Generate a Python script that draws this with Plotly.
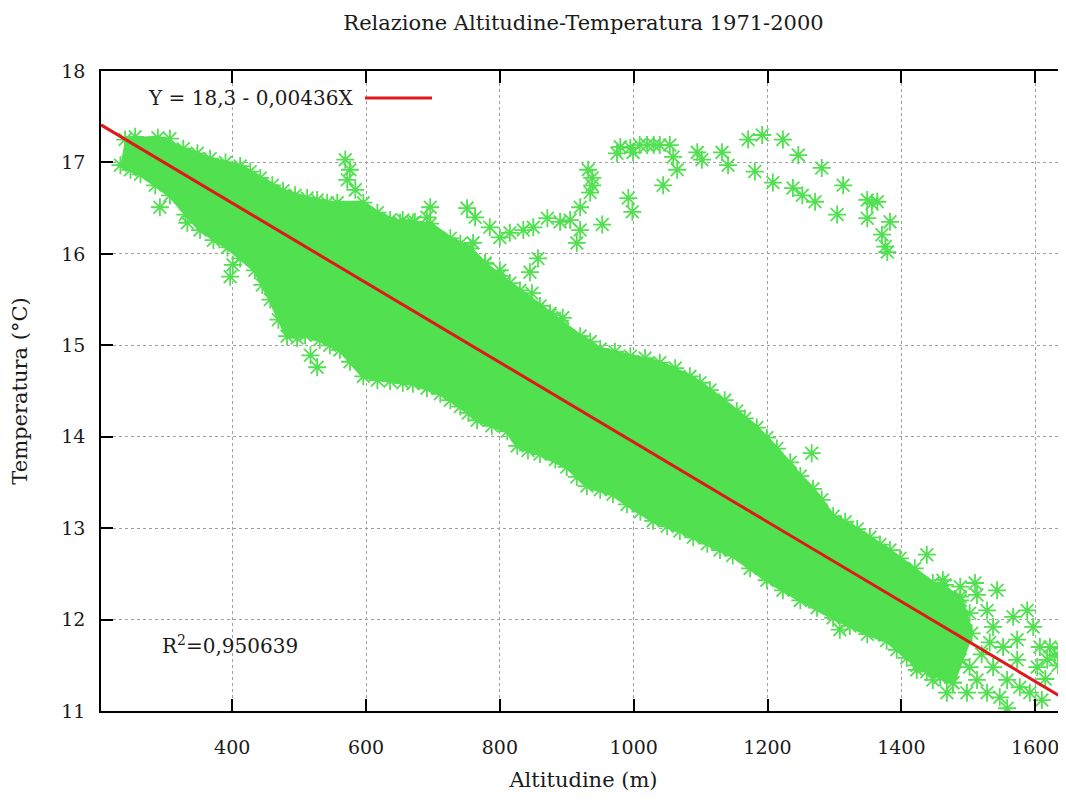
import plotly.graph_objects as go

# ---- data ----
# dense core of the cloud: upper and lower edge (altitude m, temperature °C)
upper_x = [240, 289, 327, 367, 412, 442, 476, 512, 542, 596, 617, 651, 696, 726, 756, 778, 800, 830, 860,
           890, 920, 950, 995, 1039, 1084, 1114, 1154, 1184, 1214, 1249, 1268, 1298, 1334, 1368, 1398, 1447,
           1488, 1505]
upper_t = [17.25, 17.27, 17.15, 17.04, 16.96, 16.83, 16.69, 16.61, 16.56, 16.56, 16.45, 16.34, 16.33, 16.17,
           16.06, 15.89, 15.76, 15.60, 15.43, 15.27, 15.10, 14.96, 14.88, 14.81, 14.66, 14.51, 14.28, 14.10,
           13.87, 13.57, 13.43, 13.13, 12.99, 12.82, 12.67, 12.40, 12.25, 11.85]
lower_x = [233, 263, 307, 352, 393, 434, 457, 482, 509, 531, 561, 596, 636, 670, 711, 741, 766, 811, 826,
           860, 900, 930, 969, 990, 1029, 1069, 1110, 1148, 1199, 1249, 1298, 1349, 1378, 1408, 1438, 1477]
lower_t = [16.97, 16.87, 16.64, 16.26, 16.07, 15.82, 15.50, 15.10, 15.11, 15.06, 14.95, 14.66, 14.61, 14.58,
           14.47, 14.33, 14.18, 14.06, 13.90, 13.81, 13.67, 13.46, 13.37, 13.26, 13.08, 12.97, 12.83, 12.70,
           12.43, 12.21, 12.02, 11.84, 11.77, 11.58, 11.43, 11.31]

# more stations read along the edges of the dense core
edge_x = [255, 307, 348, 390, 427, 460, 494, 527, 557, 636, 673, 741, 815, 875, 935, 972, 1017, 1062, 1099,
          1136, 1166, 1199, 1234, 1281, 1316, 1353, 1383, 1420, 1465,
          248, 285, 330, 372, 412, 445, 469, 497, 546, 576, 617, 655, 691, 726, 753, 788, 842, 883, 915, 950,
          1010, 1050, 1089, 1129, 1174, 1223, 1274, 1323, 1393, 1423, 1458]
edge_t = [17.28, 17.26, 17.10, 17.00, 16.90, 16.75, 16.64, 16.59, 16.56, 16.37, 16.35, 16.11, 15.68, 15.35,
          15.04, 14.93, 14.86, 14.75, 14.59, 14.40, 14.20, 13.99, 13.72, 13.31, 13.07, 12.90, 12.76, 12.56,
          12.38,
          16.92, 16.75, 16.43, 16.15, 15.95, 15.66, 15.28, 15.08, 15.00, 14.82, 14.62, 14.59, 14.53, 14.40,
          14.26, 14.12, 13.85, 13.75, 13.56, 13.42, 13.18, 13.02, 12.90, 12.76, 12.56, 12.32, 12.13, 11.93,
          11.67, 11.50, 11.37]

# scattered stations outside the dense core
stray_x = [569, 576, 572, 584, 696, 691, 670, 655,
           751, 763, 785, 800, 815, 835, 850, 871, 890, 905, 920, 935, 938, 938, 932, 920, 915, 953,
           975, 980, 995, 999, 992, 998, 1009, 1020, 1030, 1039, 1054, 1059, 1065, 1044, 1095, 1102, 1132,
           1141, 1171, 1192, 1223, 1181, 1208, 1246, 1238, 1252, 1271, 1281, 1313, 1304, 1349, 1364, 1349,
           1383, 1371, 1376, 1379, 1356,
           760, 778, 800, 805, 845, 857, 848, 856, 875, 894,
           292, 333, 397, 401, 527, 517,
           1266, 1438, 1308]
stray_t = [17.03, 16.92, 16.81, 16.70, 16.51, 16.40, 16.34, 16.37,
           16.50, 16.40, 16.29, 16.18, 16.23, 16.26, 16.29, 16.39, 16.35, 16.37, 16.51, 16.67, 16.75, 16.83,
           16.92, 16.26, 16.12, 16.32,
           17.10, 17.17, 17.16, 17.11, 16.61, 16.46, 17.19, 17.19, 17.19, 17.19, 17.19, 17.06, 16.92, 16.75,
           17.11, 17.03, 17.11, 16.97, 17.25, 17.30, 17.25, 16.90, 16.78, 17.08, 16.72, 16.64, 16.57, 16.94,
           16.75, 16.43, 16.59, 16.57, 16.39, 16.35, 16.21, 16.08, 16.02, 16.55,
           16.12, 15.90, 15.82, 15.68, 15.80, 15.95, 15.57, 15.39, 15.33, 15.30,
           16.51, 16.34, 15.75, 15.88, 14.76, 14.89,
           13.82, 12.71, 11.89]

# sparse high-altitude stations (right end of the cloud)
high_x = [1462, 1488, 1510, 1513, 1543, 1488, 1502, 1528, 1537, 1567, 1588, 1597, 1573, 1607, 1622, 1618,
          1603, 1573, 1552, 1537, 1558, 1577, 1547, 1558, 1528, 1513, 1498, 1477, 1468, 1502, 1488, 1462,
          1447, 1423, 1629, 1634, 1640, 1592, 1610, 1615, 1532, 1520, 1455]
high_t = [12.43, 12.36, 12.40, 12.27, 12.32, 12.21, 12.07, 12.10, 11.92, 12.03, 12.10, 11.92, 11.78, 11.70,
          11.70, 11.56, 11.48, 11.56, 11.70, 11.48, 11.34, 11.26, 11.15, 11.03, 11.20, 11.34, 11.20, 11.31,
          11.20, 11.48, 11.56, 11.48, 11.34, 11.45, 11.61, 11.50, 11.68, 11.20, 11.12, 11.35, 11.75, 11.62,
          11.62]

# regression shown in the chart
intercept = 18.3
slope = -0.00436
fit_label = "Y = 18,3 - 0,00436X"
r2_label = "R<sup>2</sup>=0,950639"

x_range = [204, 1646]
y_range = [11, 18]
x_ticks = [400, 600, 800, 1000, 1200, 1400, 1600]
y_ticks = [11, 12, 13, 14, 15, 16, 17, 18]

GREEN = "#50e050"
RED = "#e01818"
FONT = "DejaVu Serif"
TXT = "#1a1a1a"

fig = go.Figure()

# dense core as a filled region
core_x = upper_x + lower_x[::-1]
core_y = upper_t + lower_t[::-1]
fig.add_trace(go.Scatter(x=core_x, y=core_y, mode="lines", fill="toself", fillcolor=GREEN,
                         line=dict(color=GREEN, width=4), hoverinfo="skip", showlegend=False))

star = dict(symbol="asterisk-open", size=15, color=GREEN, line=dict(color=GREEN, width=1.8))
fig.add_trace(go.Scatter(x=upper_x + lower_x + edge_x, y=upper_t + lower_t + edge_t, mode="markers",
                         marker=star, showlegend=False))
fig.add_trace(go.Scatter(x=stray_x + high_x, y=stray_t + high_t, mode="markers", marker=star,
                         showlegend=False))

# regression line
fig.add_trace(go.Scatter(x=x_range, y=[intercept + slope * v for v in x_range], mode="lines",
                         line=dict(color=RED, width=3), showlegend=False))

axis_common = dict(showline=True, linecolor="black", linewidth=1.5, ticks="inside", ticklen=12,
                   tickwidth=1.5, tickcolor="black", showgrid=True, gridcolor="#a0a0a0", griddash="dot",
                   gridwidth=1, zeroline=False, automargin=False,
                   tickfont=dict(family=FONT, size=19, color=TXT))

fig.update_xaxes(range=x_range, tickvals=x_ticks, mirror="ticks", ticklabelstandoff=18,
                 title=dict(text="Altitudine (m)", font=dict(family=FONT, size=21, color=TXT), standoff=25),
                 **axis_common)
fig.update_yaxes(range=y_range, tickvals=y_ticks, mirror=False, ticklabelstandoff=10,
                 title=dict(text="Temperatura (°C)", font=dict(family=FONT, size=21, color=TXT), standoff=30),
                 **axis_common)

# legend (text followed by line sample, gnuplot style) and R² note
fig.add_annotation(text=fit_label, xref="paper", yref="paper", x=0.2632, y=0.958, xanchor="right",
                   yanchor="middle", showarrow=False, font=dict(family=FONT, size=20, color=TXT))
fig.add_shape(type="line", xref="paper", yref="paper", x0=0.2736, x1=0.343, y0=0.958, y1=0.958,
              line=dict(color=RED, width=3))
fig.add_annotation(text=r2_label, xref="paper", yref="paper", x=0.0611, y=0.103, xanchor="left",
                   yanchor="middle", showarrow=False, font=dict(family=FONT, size=20, color=TXT))

# the page body adds an 8 px margin, so the figure is sized to fit the window without scrolling
fig.update_layout(
    width=1058, height=784,
    margin=dict(l=93, r=0, t=63, b=81),
    paper_bgcolor="white", plot_bgcolor="white",
    title=dict(text="Relazione Altitudine-Temperatura 1971-2000", x=0.5, xref="paper", xanchor="center",
               y=1 - 15 / 784, yref="container", yanchor="middle",
               font=dict(family=FONT, size=21, color=TXT)),
    showlegend=False,
)

fig.write_html("out.html")
